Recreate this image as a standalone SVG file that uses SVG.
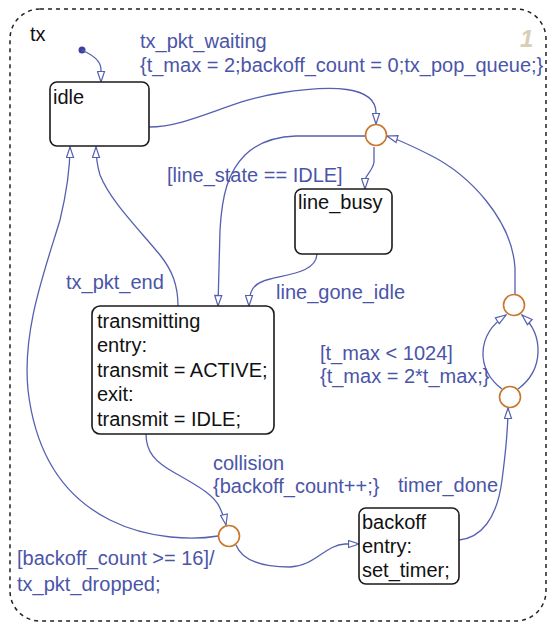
<svg xmlns="http://www.w3.org/2000/svg" width="549" height="625" viewBox="0 0 549 625">
<style>
.bg{fill:#ffffff}
.frame{fill:none;stroke:#222;stroke-width:1.5;stroke-dasharray:4,4}
.state{fill:#fff;stroke:#1a1a1a;stroke-width:1.6}
.st{font-family:"Liberation Sans",Arial,sans-serif;font-size:20px;fill:#111}
.lbl{font-family:"Liberation Sans",Arial,sans-serif;font-size:20px;fill:#4b55a8}
.tr{fill:none;stroke:#5560b0;stroke-width:1.3}
.junc{fill:#fff;stroke:#c8772e;stroke-width:1.6}
</style>
<defs>
<marker id="arr" markerWidth="13" markerHeight="9" refX="11.5" refY="4.5" orient="auto" markerUnits="userSpaceOnUse">
<path d="M1,1 L11.5,4.5 L1,8 Z" fill="#fff" stroke="#5560b0" stroke-width="1.2"/>
</marker>
</defs>
<rect class="bg" x="0" y="0" width="549" height="625"/>
<rect class="frame" x="10" y="9" width="536" height="612" rx="30" ry="30"/>
<text class="st" x="30" y="41">tx</text>
<text x="520" y="47" font-family="Liberation Sans,Arial,sans-serif" font-size="24" font-weight="bold" font-style="italic" fill="#d9ceb5">1</text>

<g id="connectors">
<circle cx="82" cy="50" r="3.5" fill="#3a44a0"/>
<path class="tr" marker-end="url(#arr)" d="M82,50 C92,55 101,60 101,70 L101,82"/>
<path class="tr" marker-end="url(#arr)" d="M149,127 C190,127 230,100 280,93 C330,85 376,85 376,113 L376,124"/>
<path class="tr" marker-end="url(#arr)" d="M374,147 L374,162 C373,170 366,175 365,180 L365,189"/>
<path class="tr" marker-end="url(#arr)" d="M365,136 L296,136 C270,137 255,145 245,155 C228,172 222,195 220,230 L218,306"/>
<path class="tr" marker-end="url(#arr)" d="M317,254 C316,272 290,274 270,279 C252,283 249,292 249,306"/>
<path class="tr" marker-end="url(#arr)" d="M178,306 C178,285 172,270 160,255 C135,225 110,200 100,175 C97,165 96,158 96,147"/>
<path class="tr" marker-end="url(#arr)" d="M218,536 C195,540 150,540 110,520 C60,495 35,450 28,390 C22,330 45,270 60,220 C66,195 70,170 70,147"/>
<path class="tr" marker-end="url(#arr)" d="M146,434 C146,452 155,462 175,473 C200,487 215,496 220,508 C223,515 225,520 226,525"/>
<path class="tr" marker-end="url(#arr)" d="M236,545 C242,560 260,567 290,567 C315,566 325,545 345,544 L359,544"/>
<path class="tr" marker-end="url(#arr)" d="M459,540 C480,538 497,520 502,480 C506,450 508,430 508,408"/>
<path class="tr" marker-end="url(#arr)" d="M502,389 C476,370 476,335 506,315"/>
<path class="tr" marker-end="url(#arr)" d="M518,389 C544,370 544,335 522,315"/>
<path class="tr" marker-end="url(#arr)" d="M515,294 L515,268 C512,220 470,175 430,155 C410,145 400,140 387,136"/>
<text class="lbl" x="140" y="48">tx_pkt_waiting</text>
<text class="lbl" x="140" y="72">{t_max = 2;backoff_count = 0;tx_pop_queue;}</text>
<text class="lbl" x="167" y="182">[line_state == IDLE]</text>
<text class="lbl" x="276" y="299">line_gone_idle</text>
<text class="lbl" x="66" y="289">tx_pkt_end</text>
<text class="lbl" x="320" y="360">[t_max &lt; 1024]</text>
<text class="lbl" x="320" y="383">{t_max = 2*t_max;}</text>
<text class="lbl" x="213" y="470">collision</text>
<text class="lbl" x="213" y="493">{backoff_count++;}</text>
<text class="lbl" x="398" y="492">timer_done</text>
<text class="lbl" x="17" y="565">[backoff_count &gt;= 16]/</text>
<text class="lbl" x="17" y="591">tx_pkt_dropped;</text>
</g>

<g id="j_top"><circle class="junc" cx="376" cy="135" r="10.5"/></g>
<g id="j_right_top"><circle class="junc" cx="514" cy="305" r="10.5"/></g>
<g id="j_right_bottom"><circle class="junc" cx="510" cy="397" r="10.5"/></g>
<g id="j_bottom"><circle class="junc" cx="229" cy="536" r="10.5"/></g>

<g id="idle">
<rect class="state" x="50" y="82" width="99" height="64" rx="7"/>
<text class="st" x="53" y="104">idle</text>
</g>
<g id="line_busy">
<rect class="state" x="295" y="189" width="97" height="65" rx="7"/>
<text class="st" x="298" y="209">line_busy</text>
</g>
<g id="transmitting">
<rect class="state" x="92" y="306" width="182" height="128" rx="8"/>
<text class="st" x="97" y="328">transmitting</text>
<text class="st" x="97" y="352">entry:</text>
<text class="st" x="97" y="377">transmit = ACTIVE;</text>
<text class="st" x="97" y="401">exit:</text>
<text class="st" x="97" y="426">transmit = IDLE;</text>
</g>
<g id="backoff">
<rect class="state" x="359" y="508" width="100" height="76" rx="7"/>
<text class="st" x="362" y="529">backoff</text>
<text class="st" x="362" y="553">entry:</text>
<text class="st" x="362" y="577">set_timer;</text>
</g>
</svg>
